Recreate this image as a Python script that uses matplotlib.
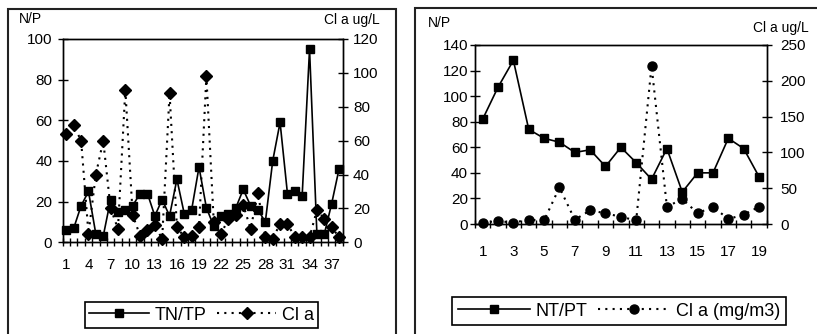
import numpy as np
import matplotlib
matplotlib.use("Agg")
import matplotlib.pyplot as plt
from matplotlib.lines import Line2D
from matplotlib.patches import Rectangle

plt.rcParams['font.family'] = ['Liberation Sans', 'DejaVu Sans']

# left chart: 38 samples
tn_tp = [6, 7, 18, 25, 4, 3, 21, 15, 16, 18, 24, 24, 13, 21, 13, 31, 14, 16, 37,
         17, 8, 13, 14, 17, 26, 18, 16, 10, 40, 59, 24, 25, 23, 95, 4, 4, 19, 36]
cla_left = [64, 69, 60, 5, 40, 60, 20, 8, 90, 16, 4, 7, 10, 2, 88, 9, 3, 4, 9,
            98, 12, 5, 14, 16, 22, 8, 29, 3, 2, 11, 11, 3, 3, 3, 19, 14, 9, 3]

# right chart: 19 samples
np_ratio = [82, 107, 128, 74, 67, 64, 56, 58, 45, 60, 48, 35, 59, 25, 40, 40, 67, 59, 37]
cla_right = [2, 4, 2, 6, 5, 51, 6, 19, 15, 10, 5, 221, 24, 35, 15, 24, 7, 13, 24]

W, H = 817, 334


def box(x0, y0, x1, y1):
    # pixel box (from top-left) -> figure fraction rect
    return [x0 / W, 1 - y1 / H, (x1 - x0) / W, (y1 - y0) / H]


def style_axes(ax, axr, n, xpad, lpad, rpad):
    ax.set_xlim(0.5, n + 0.5)
    ax.set_xticks(np.arange(0.5, n + 1, 1), minor=True)
    ax.tick_params(axis='x', which='major', length=0, pad=xpad, labelsize=11)
    ax.tick_params(axis='x', which='minor', direction='inout', length=6, width=1)
    ax.tick_params(axis='y', direction='inout', length=7, width=1, pad=lpad, labelsize=11)
    axr.tick_params(axis='y', direction='inout', length=7, width=1, pad=rpad, labelsize=11)
    for a in (ax, axr):
        for s in a.spines.values():
            s.set_linewidth(1.0)


fig = plt.figure(figsize=(W / 100, H / 100), dpi=100)

# ---- left chart ----
ax1 = fig.add_axes(box(62.7, 39, 342.7, 242.3))
x1 = np.arange(1, len(tn_tp) + 1)
ax1.plot(x1, tn_tp, color='k', lw=1.2, marker='s', ms=5.5, clip_on=False, zorder=3)
ax1.set_ylim(0, 100)
ax1.set_yticks(range(0, 101, 20))
ax1.set_xticks(x1[::3])
ax1b = ax1.twinx()
ax1b.plot(x1, cla_left, color='k', lw=1.5, ls=(0, (1, 2.5)), marker='D', ms=6, clip_on=False)
ax1b.set_ylim(0, 120)
ax1b.set_yticks(range(0, 121, 20))
style_axes(ax1, ax1b, len(tn_tp), 11, 4, 4)

fig.text(30 / W, 1 - 19 / H, 'N/P', fontsize=10, ha='center', va='center')
fig.text(352 / W, 1 - 20 / H, 'Cl a ug/L', fontsize=10, ha='center', va='center')

leg1 = fig.legend(handles=[
    Line2D([], [], color='k', lw=1.2, marker='s', ms=5.5, label='TN/TP'),
    Line2D([], [], color='k', lw=1.5, ls=(0, (1, 2.5)), marker='D', ms=6, label='Cl a')],
    loc='center', bbox_to_anchor=(201.5 / W, 1 - 315 / H), ncol=2, fontsize=13,
    frameon=True, fancybox=False, edgecolor='k', framealpha=1, handlelength=3.3,
    columnspacing=0.6, handletextpad=0.3, borderpad=0.25)
leg1.get_frame().set_linewidth(1.2)

# ---- right chart ----
ax2 = fig.add_axes(box(475, 45, 766.7, 224))
x2 = np.arange(1, len(np_ratio) + 1)
ax2.plot(x2, np_ratio, color='k', lw=1.2, marker='s', ms=6, clip_on=False, zorder=3)
ax2.set_ylim(0, 140)
ax2.set_yticks(range(0, 141, 20))
ax2.set_xticks(x2[::2])
ax2b = ax2.twinx()
ax2b.plot(x2, cla_right, color='k', lw=1.5, ls=(0, (1, 2.5)), marker='o', ms=6.5, clip_on=False)
ax2b.set_ylim(0, 250)
ax2b.set_yticks(range(0, 251, 50))
style_axes(ax2, ax2b, len(np_ratio), 15, 1.5, 6)

fig.text(439 / W, 1 - 23 / H, 'N/P', fontsize=10, ha='center', va='center')
fig.text(781 / W, 1 - 28 / H, 'Cl a ug/L', fontsize=10, ha='center', va='center')

leg2 = fig.legend(handles=[
    Line2D([], [], color='k', lw=1.2, marker='s', ms=6, label='NT/PT'),
    Line2D([], [], color='k', lw=1.5, ls=(0, (1, 2.5)), marker='o', ms=6.5, label='Cl a (mg/m3)')],
    loc='center', bbox_to_anchor=(619 / W, 1 - 311 / H), ncol=2, fontsize=13,
    frameon=True, fancybox=False, edgecolor='k', framealpha=1, handlelength=4,
    columnspacing=0.6, handletextpad=0.3, borderpad=0.3)
leg2.get_frame().set_linewidth(1.2)

# outer chart frames
fig.add_artist(Rectangle((8 / W, -0.05), (396 - 8) / W, 1 - 9 / H + 0.05,
                         transform=fig.transFigure, fill=False, lw=1.5, ec='#222222'))
fig.add_artist(Rectangle((415 / W, -0.05), (830 - 415) / W, 1 - 8 / H + 0.05,
                         transform=fig.transFigure, fill=False, lw=1.5, ec='#222222'))

fig.savefig('out.png', dpi=100)
